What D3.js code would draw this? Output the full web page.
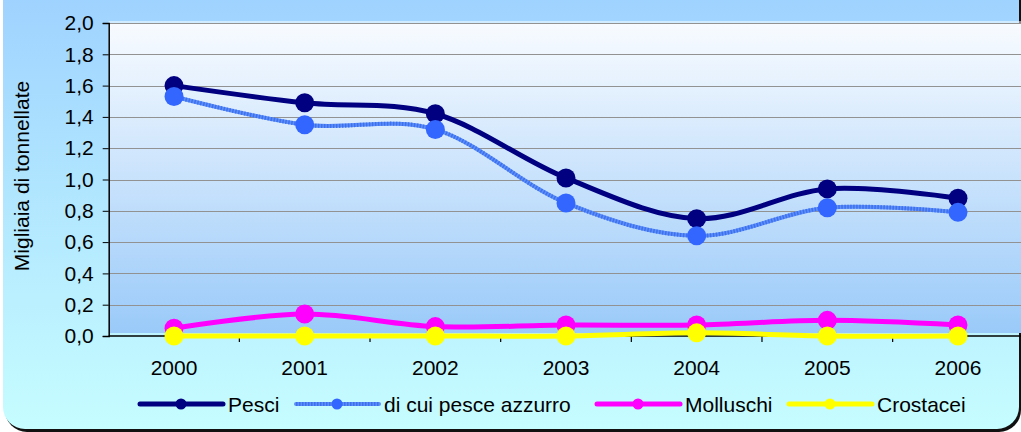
<html>
<head>
<meta charset="utf-8">
<script src="https://cdn.jsdelivr.net/npm/d3@7"></script>
<style>
	body { margin:0; background:#ffffff; }
	svg { display:block; font-family:"Liberation Sans", Arial, sans-serif; }
</style>
</head>
<body>
<svg id="svg" width="1021" height="432"></svg>
<script>
// data (migliaia di tonnellate)
const years = ["2000", "2001", "2002", "2003", "2004", "2005", "2006"];
const pesci = [1.60, 1.49, 1.42, 1.01, 0.75, 0.94, 0.88];
const azzurro = [1.53, 1.35, 1.32, 0.85, 0.64, 0.82, 0.79];
const molluschi = [0.05, 0.14, 0.06, 0.07, 0.07, 0.10, 0.07];
const crostacei = [0.00, 0.00, 0.00, 0.00, 0.02, 0.00, 0.00];
const yTicks = [0, 0.2, 0.4, 0.6, 0.8, 1.0, 1.2, 1.4, 1.6, 1.8, 2.0];
const seriesNames = ["Pesci", "di cui pesce azzurro", "Molluschi", "Crostacei"];

// layout
const plot = { left: 108.7, right: 1023.3, top: 23, bottom: 336 };

let xScale = d3.scaleBand()
	.domain(years)
	.range([plot.left, plot.right])
	.padding(0);
let yScale = d3.scaleLinear()
	.domain([0, 2])
	.range([plot.bottom, plot.top]);

const cx = d => xScale(d) + xScale.bandwidth() / 2;
const fmt = v => d3.format(".1f")(v).replace(".", ",");

let mySvg = d3.select("#svg");
let defs = mySvg.append("defs");

let gOuter = defs.append("linearGradient").attr("id", "outerGrad")
	.attr("x1", 0).attr("y1", 0).attr("x2", 0).attr("y2", 1);
gOuter.append("stop").attr("offset", "0%").attr("stop-color", "#9ccfff");
gOuter.append("stop").attr("offset", "100%").attr("stop-color", "#c6fdff");

let gPlot = defs.append("linearGradient").attr("id", "plotGrad")
	.attr("x1", 0).attr("y1", 0).attr("x2", 0).attr("y2", 1);
gPlot.append("stop").attr("offset", "0%").attr("stop-color", "#f8fbff");
gPlot.append("stop").attr("offset", "100%").attr("stop-color", "#9acaf9");

// chart background with shadow, top runs off the picture
mySvg.append("rect")
	.attr("x", 5).attr("y", -40).attr("width", 1016).attr("height", 472)
	.attr("rx", 22).attr("fill", "#111");
mySvg.append("rect")
	.attr("x", 3).attr("y", -40).attr("width", 1016).attr("height", 469)
	.attr("rx", 22).attr("fill", "url(#outerGrad)");

// plot area
mySvg.append("rect")
	.attr("x", plot.left).attr("y", plot.top)
	.attr("width", plot.right - plot.left).attr("height", plot.bottom - 3 - plot.top)
	.attr("fill", "url(#plotGrad)");
mySvg.append("line")
	.attr("x1", plot.left).attr("x2", plot.right)
	.attr("y1", plot.top - 1).attr("y2", plot.top - 1)
	.attr("stroke", "#ffffff").attr("stroke-width", 1);

// gridlines
mySvg.append("g").selectAll("line")
	.data(yTicks.filter(d => d > 0))
	.enter().append("line")
	.attr("x1", plot.left).attr("x2", plot.right)
	.attr("y1", d => Math.round(yScale(d)) + 0.5)
	.attr("y2", d => Math.round(yScale(d)) + 0.5)
	.attr("stroke", "#929292").attr("stroke-width", 1.2);

// y axis
let yAxis = d3.axisLeft(yScale)
	.tickValues(yTicks)
	.tickFormat(fmt)
	.tickSize(6)
	.tickPadding(9);
let yG = mySvg.append("g")
	.attr("transform", `translate(${plot.left},0)`)
	.call(yAxis);
yG.select(".domain").attr("stroke", "#000").attr("stroke-width", 1.5);
yG.selectAll(".tick line").attr("stroke", "#000");
yG.selectAll(".tick text")
	.attr("font-size", 21).attr("fill", "#000")
	.attr("font-family", "'Liberation Sans', Arial, sans-serif");

// x axis: labels at centres, ticks at category boundaries
let xAxis = d3.axisBottom(xScale).tickSize(0).tickPadding(0);
let xG = mySvg.append("g")
	.attr("transform", `translate(0,${plot.bottom})`)
	.call(xAxis);
xG.select(".domain").remove();
xG.selectAll(".tick text")
	.attr("font-size", 21).attr("fill", "#000")
	.attr("font-family", "'Liberation Sans', Arial, sans-serif")
	.attr("dy", null)
	.attr("y", 39);

mySvg.append("line")
	.attr("x1", plot.left).attr("x2", plot.right)
	.attr("y1", plot.bottom).attr("y2", plot.bottom)
	.attr("stroke", "#000").attr("stroke-width", 1.5);
mySvg.append("g").selectAll("line")
	.data(years.slice(1))
	.enter().append("line")
	.attr("x1", d => xScale(d)).attr("x2", d => xScale(d))
	.attr("y1", plot.bottom).attr("y2", plot.bottom + 6)
	.attr("stroke", "#000").attr("stroke-width", 1.2);

// y axis title
mySvg.append("text")
	.attr("transform", "translate(29,176) rotate(-90)")
	.attr("text-anchor", "middle")
	.attr("font-size", 21)
	.text("Migliaia di tonnellate");

// series
const series = [
	{ name: seriesNames[0], values: pesci, color: "#000080", marker: "#000080", width: 5 },
	{ name: seriesNames[1], values: azzurro, color: "#5e8ff6", marker: "#3366ff", width: 4, texture: "#3d70f0" },
	{ name: seriesNames[2], values: molluschi, color: "#ff00ff", marker: "#ff00ff", width: 5 },
	{ name: seriesNames[3], values: crostacei, color: "#ffff00", marker: "#ffff00", width: 5 }
];

let line = d3.line()
	.x((d, i) => cx(years[i]))
	.y(d => yScale(d))
	.curve(d3.curveCardinal.tension(0));

series.forEach(s => {
	let g = mySvg.append("g");
	g.append("path")
		.attr("d", line(s.values))
		.attr("fill", "none")
		.attr("stroke", s.color)
		.attr("stroke-width", s.width);
	if (s.texture) {
		g.append("path")
			.attr("d", line(s.values))
			.attr("fill", "none")
			.attr("stroke", s.texture)
			.attr("stroke-width", s.width)
			.attr("stroke-dasharray", "1.5 1.5");
	}
	g.selectAll("circle")
		.data(s.values)
		.enter().append("circle")
		.attr("cx", (d, i) => cx(years[i]))
		.attr("cy", d => yScale(d))
		.attr("r", 9.5)
		.attr("fill", s.marker);
});

// legend
const legendX = [140, 296, 597, 789];
let lg = mySvg.append("g").selectAll("g")
	.data(series)
	.enter().append("g")
	.attr("transform", (d, i) => `translate(${legendX[i]},404)`);
lg.append("line")
	.attr("x1", 0).attr("x2", 83)
	.attr("y1", 0).attr("y2", 0)
	.attr("stroke", d => d.color)
	.attr("stroke-width", d => d.width)
	.attr("stroke-linecap", "round");
lg.filter(d => d.texture).append("line")
	.attr("x1", 0).attr("x2", 83)
	.attr("y1", 0).attr("y2", 0)
	.attr("stroke", d => d.texture)
	.attr("stroke-width", d => d.width)
	.attr("stroke-dasharray", "1.5 1.5");
lg.append("circle")
	.attr("cx", 41).attr("cy", 0).attr("r", 5.5)
	.attr("fill", d => d.marker);
lg.append("text")
	.attr("x", 88).attr("y", 8)
	.attr("font-size", 21)
	.text(d => d.name);
</script>
</body>
</html>
